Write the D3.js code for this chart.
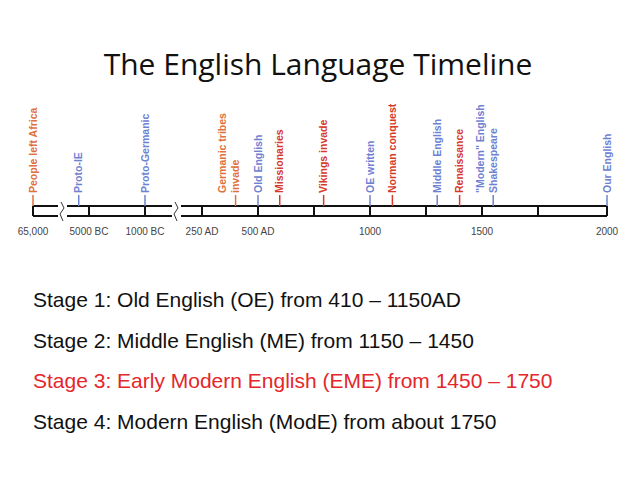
<!DOCTYPE html><html><head><meta charset="utf-8"><script src="https://cdn.jsdelivr.net/npm/d3@7"></script>
<style>body{margin:0;background:#fff}</style></head><body><svg id="c" width="638" height="479"></svg>
<script>
const tickYears=[-65000,-5000,-1000,250,500,750,1000,1250,1500,1750,2000];
const tickLabels=["65,000","5000 BC","1000 BC","250 AD","500 AD","","1000","","1500","","2000"];
const eventNames=[["People left Africa"],["Proto-IE"],["Proto-Germanic"],["Germanic tribes","invade"],["Old English"],["Missionaries"],["Vikings invade"],["OE written"],["Norman conquest"],["Middle English"],["Renaissance"],["\"Modern\" English","Shakespeare"],["Our English"]];
const eventYears=[-65000,-16000,-1000,400,500,597,793,1000,1100,1300,1400,1550,2000];
const eventKinds=["o","b","b","o","b","r","r","b","r","b","r","b","b"];
const stages=["Stage 1: Old English (OE) from 410 \u2013 1150AD","Stage 2: Middle English (ME) from 1150 \u2013 1450","Stage 3: Early Modern English (EME) from 1450 \u2013 1750","Stage 4: Modern English (ModE) from about 1750"];
const stageHighlight=[false,false,true,false];

const svg=d3.select("#c");
const x=d3.scaleLinear().domain(tickYears).range([33,89,145,202,258,314,370,426,482,538,607]);
const col={o:"#e0703c",r:"#d63a2a",b:"#6f82d2"};
svg.append("text").attr("x",318).attr("y",75).attr("text-anchor","middle").attr("font-family","Open Sans, sans-serif").attr("font-size",30).attr("fill","#111").text("The English Language Timeline");
const yT=206,yB=216;
const breaks=[62,176];
[[33,58],[67,172],[181,607]].forEach(s=>{[yT,yB].forEach(y=>svg.append("line").attr("x1",s[0]).attr("x2",s[1]).attr("y1",y).attr("y2",y).attr("stroke","#111").attr("stroke-width",2));});
breaks.forEach(b=>svg.append("path").attr("d",`M${b-1},${yT-4}L${b+2},${yT+2}L${b-2},${yB-2}L${b+1},${yB+5}`).attr("fill","none").attr("stroke","#333").attr("stroke-width",1));
svg.selectAll(".tk").data(tickYears).join("line").attr("x1",d=>x(d)).attr("x2",d=>x(d)).attr("y1",yT).attr("y2",yB).attr("stroke","#111").attr("stroke-width",2);
svg.selectAll(".tl").data(tickYears).join("text").attr("x",d=>x(d)).attr("y",235).attr("text-anchor","middle").attr("font-family","Liberation Sans, Arial").attr("font-size",10).attr("fill","#444").text((d,i)=>tickLabels[i]);
eventYears.forEach((yr,i)=>{
  const px=x(yr),c=col[eventKinds[i]],lines=eventNames[i];
  svg.append("line").attr("x1",px).attr("x2",px).attr("y1",yT).attr("y2",yT-11).attr("stroke",c).attr("stroke-width",1.5);
  lines.forEach((t,j)=>{
    const lx=px-(lines.length-1-j)*13+3.5;
    svg.append("text").attr("transform",`translate(${lx},${yT-13}) rotate(-90)`).attr("font-family","Liberation Sans, Arial").attr("font-weight","bold").attr("font-size",10.5).attr("fill",c).text(t);
  });
});
svg.selectAll(".st").data(stages).join("text").attr("x",33).attr("y",(d,i)=>307+i*40.7).attr("font-family","Liberation Sans, Arial").attr("font-size",21).attr("fill",(d,i)=>stageHighlight[i]?"#e5262a":"#111").text(d=>d);
</script></body></html>
